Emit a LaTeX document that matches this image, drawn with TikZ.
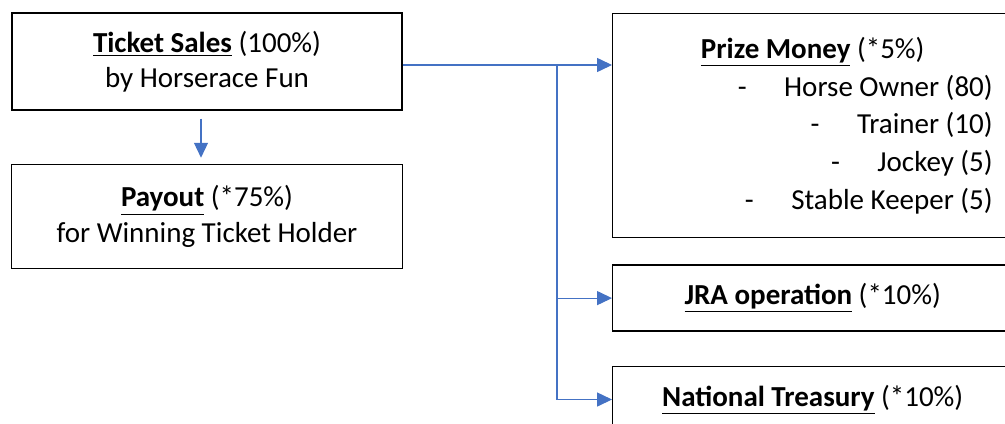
\documentclass[tikz,border=0pt]{standalone}
\usepackage{fontspec}
\setmainfont{Carlito}
\usepackage{tikz}
\usetikzlibrary{positioning,arrows.meta}
\definecolor{officeblue}{RGB}{68,114,196}

\begin{document}
\begin{tikzpicture}[
squarednode/.style={rectangle, draw=black, line width=0.8pt, minimum width=7.8cm, font=\fontsize{16.5}{20}\selectfont},
widenode/.style={squarednode, minimum width=8cm, minimum height=1.32cm},
bluearrow/.style={draw=officeblue, line width=0.6pt, -{Triangle[length=8.5pt, width=8pt]}},
]
\useasboundingbox (0,0) rectangle (20.1,-8.46);

%Nodes
\node[squarednode, minimum height=1.94cm, align=center] (sales) at (4.14,-1.23) {\underline{\textbf{Ticket Sales}} (100\%)\\ by Horserace Fun};

\node[squarednode, minimum width=7.82cm, minimum height=2.08cm, align=center] (payout) [below=1.06cm of sales] {\underline{\textbf{Payout}} (*75\%)\\ for Winning Ticket Holder};

\node[squarednode, minimum width=8cm, minimum height=4.48cm, inner xsep=0.4cm, text width=7.2cm, align=flush right, anchor=north west, font=\fontsize{16.5}{21.6}\selectfont] (prize) at (12.24,-0.26) {\makebox[7.2cm]{\underline{\textbf{Prize Money}} (*5\%)}\\ -\hspace{0.75cm}Horse Owner (80)\\ -\hspace{0.75cm}Trainer (10)\\ -\hspace{0.75cm}Jockey (5)\\ -\hspace{0.75cm}Stable Keeper (5)};

\node[widenode] (jra) [below=0.52cm of prize] {\underline{\textbf{JRA operation}} (*10\%)};
\node[widenode] (treasury) [below=0.68cm of jra] {\underline{\textbf{National Treasury}} (*10\%)};

\path (sales.east) ++(0,-0.07) coordinate (out);
\coordinate (split) at (11.14,0 |- out);

%Lines
\draw[bluearrow, shorten <=0.16cm, shorten >=0.12cm] ([xshift=-0.12cm]sales.south) -- ([xshift=-0.12cm]payout.north);
\draw[bluearrow] (out) -- (out -| prize.west);
\draw[bluearrow] (split) |- (jra.west);
\draw[bluearrow] (split) |- (treasury.west);

\end{tikzpicture}
\end{document}
